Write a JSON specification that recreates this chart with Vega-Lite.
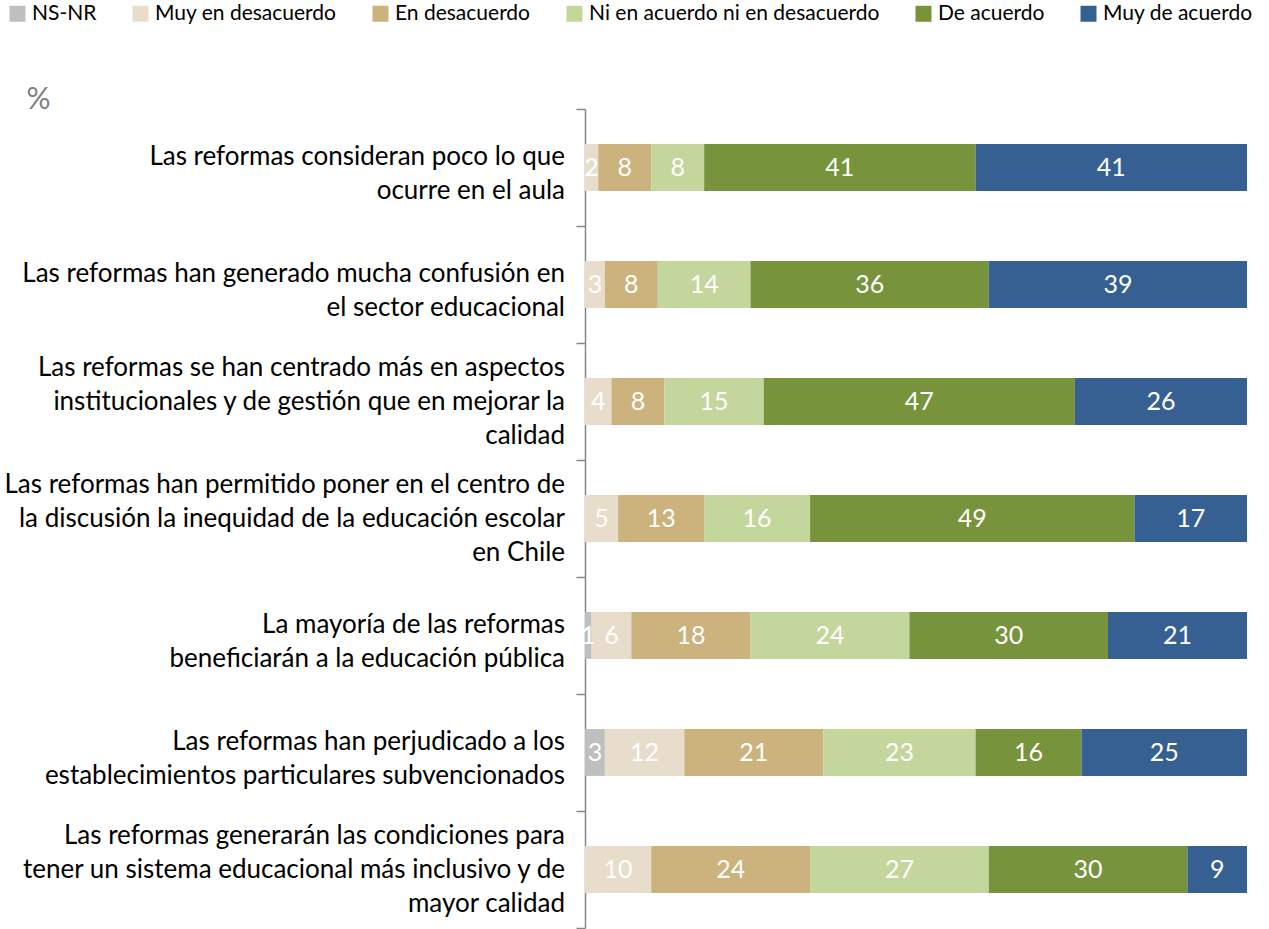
{
  "$schema": "https://vega.github.io/schema/vega-lite/v6.json",
  "width": 662,
  "height": 819,
  "autosize": {"type": "none"},
  "padding": {"left": 585, "top": 109, "right": 22, "bottom": 1},
  "config": {"font": "Lato", "view": {"stroke": null}},
  "data": {"values": [
    {"item": "Las reformas consideran poco lo que|ocurre en el aula", "resp": "Muy en desacuerdo", "code": 1, "pct": 2},
    {"item": "Las reformas consideran poco lo que|ocurre en el aula", "resp": "En desacuerdo", "code": 2, "pct": 8},
    {"item": "Las reformas consideran poco lo que|ocurre en el aula", "resp": "Ni en acuerdo ni en desacuerdo", "code": 3, "pct": 8},
    {"item": "Las reformas consideran poco lo que|ocurre en el aula", "resp": "De acuerdo", "code": 4, "pct": 41},
    {"item": "Las reformas consideran poco lo que|ocurre en el aula", "resp": "Muy de acuerdo", "code": 5, "pct": 41},
    {"item": "Las reformas han generado mucha confusión en|el sector educacional", "resp": "Muy en desacuerdo", "code": 1, "pct": 3},
    {"item": "Las reformas han generado mucha confusión en|el sector educacional", "resp": "En desacuerdo", "code": 2, "pct": 8},
    {"item": "Las reformas han generado mucha confusión en|el sector educacional", "resp": "Ni en acuerdo ni en desacuerdo", "code": 3, "pct": 14},
    {"item": "Las reformas han generado mucha confusión en|el sector educacional", "resp": "De acuerdo", "code": 4, "pct": 36},
    {"item": "Las reformas han generado mucha confusión en|el sector educacional", "resp": "Muy de acuerdo", "code": 5, "pct": 39},
    {"item": "Las reformas se han centrado más en aspectos|institucionales y de gestión que en mejorar la|calidad", "resp": "Muy en desacuerdo", "code": 1, "pct": 4},
    {"item": "Las reformas se han centrado más en aspectos|institucionales y de gestión que en mejorar la|calidad", "resp": "En desacuerdo", "code": 2, "pct": 8},
    {"item": "Las reformas se han centrado más en aspectos|institucionales y de gestión que en mejorar la|calidad", "resp": "Ni en acuerdo ni en desacuerdo", "code": 3, "pct": 15},
    {"item": "Las reformas se han centrado más en aspectos|institucionales y de gestión que en mejorar la|calidad", "resp": "De acuerdo", "code": 4, "pct": 47},
    {"item": "Las reformas se han centrado más en aspectos|institucionales y de gestión que en mejorar la|calidad", "resp": "Muy de acuerdo", "code": 5, "pct": 26},
    {"item": "Las reformas han permitido poner en el centro de|la discusión la inequidad de la educación escolar|en Chile", "resp": "Muy en desacuerdo", "code": 1, "pct": 5},
    {"item": "Las reformas han permitido poner en el centro de|la discusión la inequidad de la educación escolar|en Chile", "resp": "En desacuerdo", "code": 2, "pct": 13},
    {"item": "Las reformas han permitido poner en el centro de|la discusión la inequidad de la educación escolar|en Chile", "resp": "Ni en acuerdo ni en desacuerdo", "code": 3, "pct": 16},
    {"item": "Las reformas han permitido poner en el centro de|la discusión la inequidad de la educación escolar|en Chile", "resp": "De acuerdo", "code": 4, "pct": 49},
    {"item": "Las reformas han permitido poner en el centro de|la discusión la inequidad de la educación escolar|en Chile", "resp": "Muy de acuerdo", "code": 5, "pct": 17},
    {"item": "La mayoría de las reformas|beneficiarán a la educación pública", "resp": "NS-NR", "code": 0, "pct": 1},
    {"item": "La mayoría de las reformas|beneficiarán a la educación pública", "resp": "Muy en desacuerdo", "code": 1, "pct": 6},
    {"item": "La mayoría de las reformas|beneficiarán a la educación pública", "resp": "En desacuerdo", "code": 2, "pct": 18},
    {"item": "La mayoría de las reformas|beneficiarán a la educación pública", "resp": "Ni en acuerdo ni en desacuerdo", "code": 3, "pct": 24},
    {"item": "La mayoría de las reformas|beneficiarán a la educación pública", "resp": "De acuerdo", "code": 4, "pct": 30},
    {"item": "La mayoría de las reformas|beneficiarán a la educación pública", "resp": "Muy de acuerdo", "code": 5, "pct": 21},
    {"item": "Las reformas han perjudicado a los|establecimientos particulares subvencionados", "resp": "NS-NR", "code": 0, "pct": 3},
    {"item": "Las reformas han perjudicado a los|establecimientos particulares subvencionados", "resp": "Muy en desacuerdo", "code": 1, "pct": 12},
    {"item": "Las reformas han perjudicado a los|establecimientos particulares subvencionados", "resp": "En desacuerdo", "code": 2, "pct": 21},
    {"item": "Las reformas han perjudicado a los|establecimientos particulares subvencionados", "resp": "Ni en acuerdo ni en desacuerdo", "code": 3, "pct": 23},
    {"item": "Las reformas han perjudicado a los|establecimientos particulares subvencionados", "resp": "De acuerdo", "code": 4, "pct": 16},
    {"item": "Las reformas han perjudicado a los|establecimientos particulares subvencionados", "resp": "Muy de acuerdo", "code": 5, "pct": 25},
    {"item": "Las reformas generarán las condiciones para|tener un sistema educacional más inclusivo y de|mayor calidad", "resp": "Muy en desacuerdo", "code": 1, "pct": 10},
    {"item": "Las reformas generarán las condiciones para|tener un sistema educacional más inclusivo y de|mayor calidad", "resp": "En desacuerdo", "code": 2, "pct": 24},
    {"item": "Las reformas generarán las condiciones para|tener un sistema educacional más inclusivo y de|mayor calidad", "resp": "Ni en acuerdo ni en desacuerdo", "code": 3, "pct": 27},
    {"item": "Las reformas generarán las condiciones para|tener un sistema educacional más inclusivo y de|mayor calidad", "resp": "De acuerdo", "code": 4, "pct": 30},
    {"item": "Las reformas generarán las condiciones para|tener un sistema educacional más inclusivo y de|mayor calidad", "resp": "Muy de acuerdo", "code": 5, "pct": 9}
  ]},
  "encoding": {
    "y": {
      "field": "item", "type": "nominal", "sort": null,
      "scale": {"paddingInner": 0, "paddingOuter": 0},
      "axis": {
        "title": "%", "titleAngle": 0, "titleX": -559, "titleY": -10,
        "titleAlign": "left", "titleBaseline": "middle", "titleFontSize": 30,
        "titleFontWeight": "normal", "titleColor": "#7f7f7f",
        "labels": false,
        "tickBand": "extent", "tickSize": 9, "tickColor": "#868686",
        "domainColor": "#868686", "domainWidth": 1.5, "tickWidth": 1.5
      }
    }
  },
  "layer": [
    {
      "mark": {"type": "bar", "height": {"band": 0.4}},
      "encoding": {
        "x": {"field": "pct", "type": "quantitative", "stack": "zero",
              "scale": {"domain": [0, 100], "nice": false}, "axis": null},
        "color": {
          "field": "resp", "type": "nominal",
          "sort": ["NS-NR", "Muy en desacuerdo", "En desacuerdo", "Ni en acuerdo ni en desacuerdo", "De acuerdo", "Muy de acuerdo"],
          "scale": {
            "domain": ["NS-NR", "Muy en desacuerdo", "En desacuerdo", "Ni en acuerdo ni en desacuerdo", "De acuerdo", "Muy de acuerdo"],
            "range": ["#BFBFBF", "#E8DDCA", "#CCB27D", "#C3D69B", "#77933C", "#366092"]
          },
          "legend": {
            "orient": "none", "legendX": -578, "legendY": -106,
            "direction": "horizontal", "columns": 6, "title": null,
            "symbolType": "square", "symbolSize": 256, "symbolStrokeWidth": 0,
            "labelFontSize": 21, "labelColor": "#000000", "labelOffset": 4,
            "labelLimit": 600, "columnPadding": 33
          }
        },
        "order": {"field": "code", "type": "quantitative"}
      }
    },
    {
      "mark": {"type": "text", "color": "#FFFFFF", "fontSize": 25, "baseline": "middle", "align": "center"},
      "encoding": {
        "x": {"field": "pct", "type": "quantitative", "stack": "zero", "bandPosition": 0.5},
        "text": {"field": "pct", "type": "quantitative"},
        "detail": {"field": "resp", "type": "nominal"},
        "order": {"field": "code", "type": "quantitative"}
      }
    },
    {
      "transform": [{"filter": "datum.resp == 'Muy de acuerdo' && length(split(datum.item, '|')) == 2"}],
      "mark": {"type": "text", "color": "#000000", "fontSize": 26, "lineHeight": 34, "lineBreak": "|",
               "align": "right", "baseline": "middle", "dx": -20, "dy": -11},
      "encoding": {
        "x": {"datum": 0},
        "text": {"field": "item", "type": "nominal"}
      }
    },
    {
      "transform": [{"filter": "datum.resp == 'Muy de acuerdo' && length(split(datum.item, '|')) == 3"}],
      "mark": {"type": "text", "color": "#000000", "fontSize": 26, "lineHeight": 34, "lineBreak": "|",
               "align": "right", "baseline": "middle", "dx": -20, "dy": -34},
      "encoding": {
        "x": {"datum": 0},
        "text": {"field": "item", "type": "nominal"}
      }
    }
  ]
}
